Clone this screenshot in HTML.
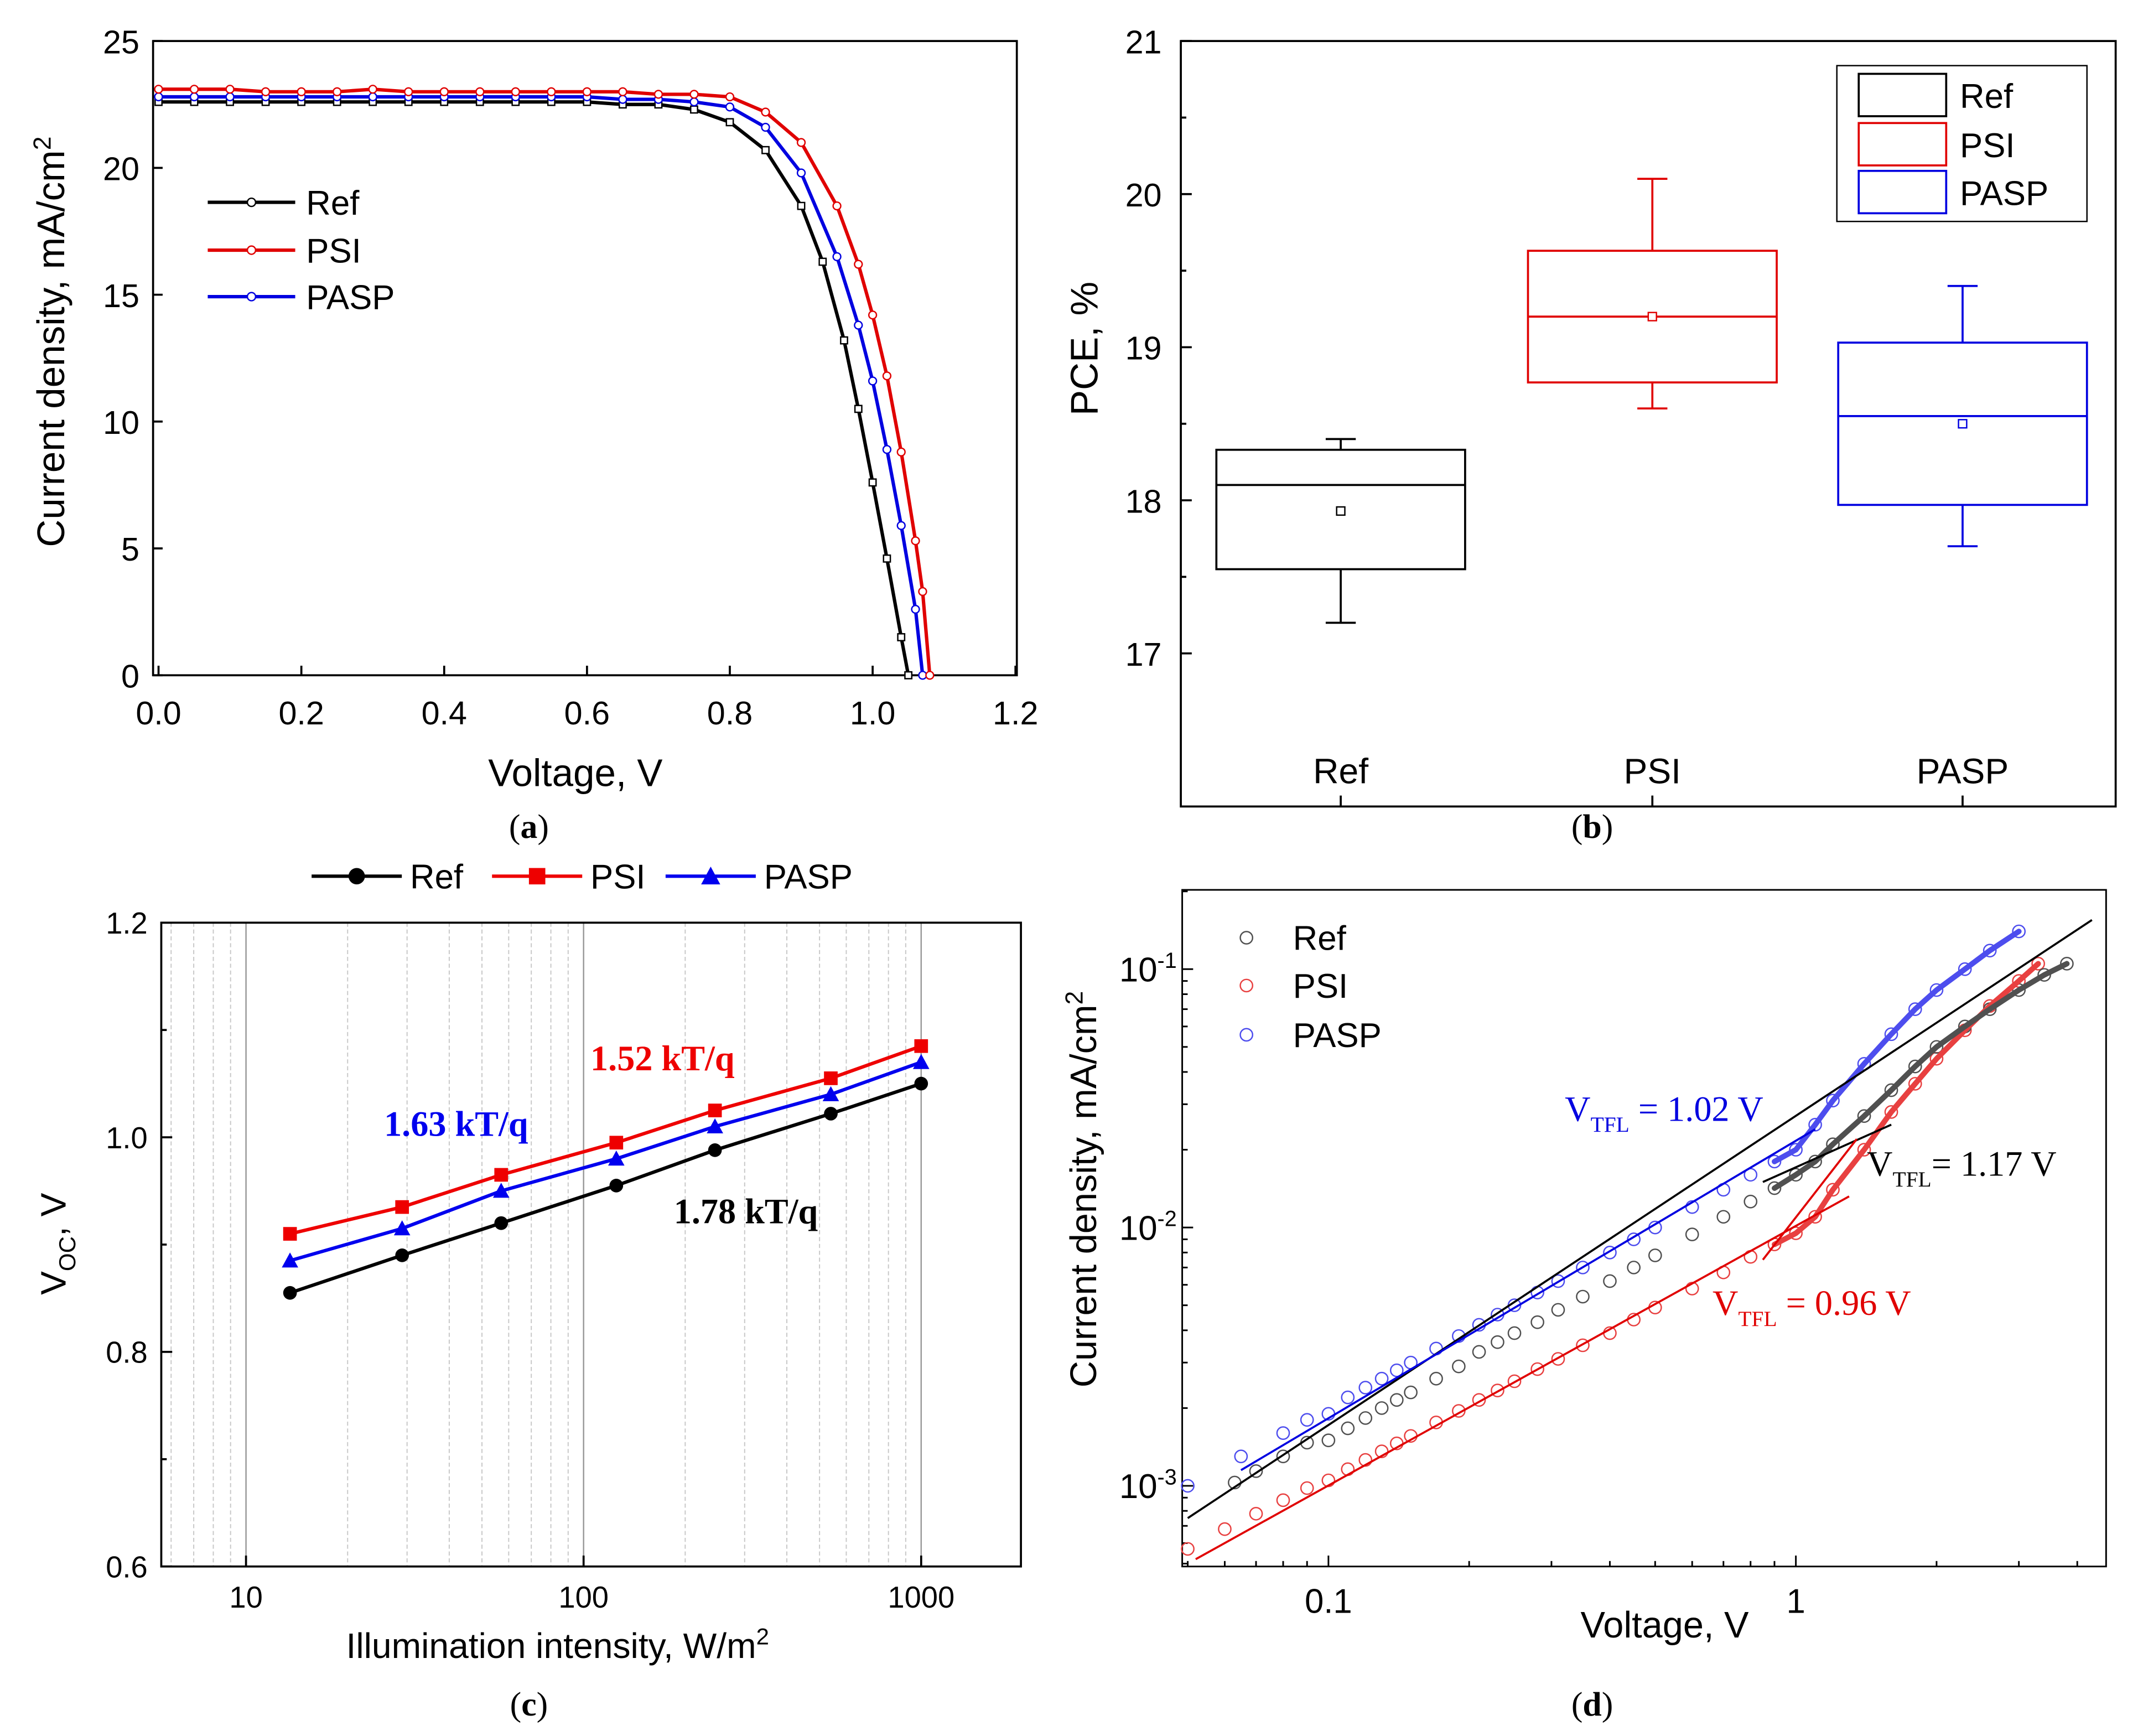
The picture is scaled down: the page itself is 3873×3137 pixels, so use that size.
<!DOCTYPE html>
<html><head><meta charset="utf-8"><style>
html,body{margin:0;padding:0;background:#fff}
svg{display:block}
text{font-family:"Liberation Sans",sans-serif}
.serif{font-family:"Liberation Serif",serif}
</style></head><body>
<svg id="fig" width="3873" height="3137" viewBox="0 0 1568 1270" xmlns="http://www.w3.org/2000/svg">
<g id="pa"></g>
<g id="pb"></g>
<g id="pc"></g>
<g id="pd"></g>
<text class="serif" x="387" y="613" font-size="25" text-anchor="middle">(<tspan font-weight="bold">a</tspan>)</text>
<text class="serif" x="1165" y="613" font-size="25" text-anchor="middle">(<tspan font-weight="bold">b</tspan>)</text>
<text class="serif" x="387" y="1255" font-size="25" text-anchor="middle">(<tspan font-weight="bold">c</tspan>)</text>
<text class="serif" x="1165" y="1255" font-size="25" text-anchor="middle">(<tspan font-weight="bold">d</tspan>)</text>
</svg>
<script>
// ---- Panel a data
const aV_ref=[0,0.05,0.1,0.15,0.2,0.25,0.3,0.35,0.4,0.45,0.5,0.55,0.6,0.65,0.7,0.75,0.8,0.85,0.9,0.93,0.96,0.98,1.0,1.02,1.04,1.05];
const aJ_ref=[22.6,22.6,22.6,22.6,22.6,22.6,22.6,22.6,22.6,22.6,22.6,22.6,22.6,22.5,22.5,22.3,21.8,20.7,18.5,16.3,13.2,10.5,7.6,4.6,1.5,0];
const aV_psi=[0,0.05,0.1,0.15,0.2,0.25,0.3,0.35,0.4,0.45,0.5,0.55,0.6,0.65,0.7,0.75,0.8,0.85,0.9,0.95,0.98,1.0,1.02,1.04,1.06,1.07,1.08];
const aJ_psi=[23.1,23.1,23.1,23.0,23.0,23.0,23.1,23.0,23.0,23.0,23.0,23.0,23.0,23.0,22.9,22.9,22.8,22.2,21.0,18.5,16.2,14.2,11.8,8.8,5.3,3.3,0];
const aV_pasp=[0,0.05,0.1,0.15,0.2,0.25,0.3,0.35,0.4,0.45,0.5,0.55,0.6,0.65,0.7,0.75,0.8,0.85,0.9,0.95,0.98,1.0,1.02,1.04,1.06,1.07];
const aJ_pasp=[22.8,22.8,22.8,22.8,22.8,22.8,22.8,22.8,22.8,22.8,22.8,22.8,22.8,22.7,22.7,22.6,22.4,21.6,19.8,16.5,13.8,11.6,8.9,5.9,2.6,0];
const aXTicks=[0,0.2,0.4,0.6,0.8,1.0,1.2];
const aYTicks=[0,5,10,15,20,25];
// ---- Panel b data
const bCats=["Ref","PSI","PASP"];
const bQ1=[17.55,18.77,17.97];
const bQ3=[18.33,19.63,19.03];
const bMed=[18.1,19.2,18.55];
const bMean=[17.93,19.2,18.5];
const bMin=[17.2,18.6,17.7];
const bMax=[18.4,20.1,19.4];
const bYTicks=[17,18,19,20,21];
// ---- Panel c data
const cI=[13.5,29,57,125,245,540,1000];
const cRef=[0.855,0.89,0.92,0.955,0.988,1.022,1.05];
const cPSI=[0.91,0.935,0.965,0.995,1.025,1.055,1.085];
const cPASP=[0.885,0.915,0.95,0.98,1.01,1.04,1.07];
const cYTicks=[0.6,0.8,1.0,1.2];
const cXTicks=[10,100,1000];
// ---- Panel d data
const dV_ref=[0.063,0.07,0.08,0.09,0.1,0.11,0.12,0.13,0.14,0.15,0.17,0.19,0.21,0.23,0.25,0.28,0.31,0.35,0.4,0.45,0.5,0.6,0.7,0.8,0.9,1.0,1.1,1.2,1.4,1.6,1.8,2.0,2.3,2.6,3.0,3.4,3.8];
const dJ_ref=[0.00103,0.00114,0.0013,0.00147,0.0015,0.00167,0.00183,0.002,0.00215,0.0023,0.0026,0.0029,0.0033,0.0036,0.0039,0.0043,0.0048,0.0054,0.0062,0.007,0.0078,0.0094,0.011,0.0126,0.0142,0.016,0.018,0.021,0.027,0.034,0.042,0.05,0.06,0.07,0.083,0.095,0.105];
const dV_psi=[0.05,0.06,0.07,0.08,0.09,0.1,0.11,0.12,0.13,0.14,0.15,0.17,0.19,0.21,0.23,0.25,0.28,0.31,0.35,0.4,0.45,0.5,0.6,0.7,0.8,0.9,1.0,1.1,1.2,1.4,1.6,1.8,2.0,2.3,2.6,3.0,3.3];
const dJ_psi=[0.00057,0.00068,0.00078,0.00088,0.00098,0.00105,0.00116,0.00126,0.00136,0.00146,0.00156,0.00176,0.00195,0.00215,0.00234,0.00254,0.00283,0.0031,0.0035,0.0039,0.0044,0.0049,0.0058,0.0067,0.0077,0.0086,0.0095,0.011,0.014,0.02,0.028,0.036,0.045,0.058,0.072,0.09,0.105];
const dV_pasp=[0.05,0.065,0.08,0.09,0.1,0.11,0.12,0.13,0.14,0.15,0.17,0.19,0.21,0.23,0.25,0.28,0.31,0.35,0.4,0.45,0.5,0.6,0.7,0.8,0.9,1.0,1.1,1.2,1.4,1.6,1.8,2.0,2.3,2.6,3.0];
const dJ_pasp=[0.001,0.0013,0.0016,0.0018,0.0019,0.0022,0.0024,0.0026,0.0028,0.003,0.0034,0.0038,0.0042,0.0046,0.005,0.0056,0.0062,0.007,0.008,0.009,0.01,0.012,0.014,0.016,0.018,0.02,0.025,0.031,0.043,0.056,0.07,0.083,0.1,0.118,0.14];
const dFitRef=[[0.05,0.00075],[4.3,0.155]];
const dFitPSI=[[0.052,0.00052],[1.3,0.0132]];
const dFitPASP=[[0.065,0.00115],[1.1,0.024]];
const dTanRef=[[0.85,0.015],[1.6,0.025]];
const dTanPSI=[[0.85,0.0075],[1.35,0.022]];

const NS="http://www.w3.org/2000/svg";
function el(p,tag,at){const e=document.createElementNS(NS,tag);for(const k in at)e.setAttribute(k,at[k]);p.appendChild(e);return e;}
function txt(p,x,y,s,size,anchor,extra){const t=el(p,'text',Object.assign({x:x,y:y,'font-size':size,'text-anchor':anchor||'middle'},extra||{}));t.textContent=s;return t;}

// ===== Panel a
(function(){
const g=document.getElementById('pa');
const X0=112,X1=744,Y0=30,Y1=494;
const sx=v=>116+v*(743-116)/1.2, sy=j=>494-j*(494-30)/25;
const box=el(g,'rect',{x:X0,y:Y0,width:X1-X0,height:Y1-Y0,fill:'none',stroke:'#000','stroke-width':1.5});

aXTicks.forEach(v=>{el(g,'line',{x1:sx(v),x2:sx(v),y1:Y1,y2:Y1-7,stroke:'#000','stroke-width':1.5});
 const t=txt(g,sx(v),Y1+36,v.toFixed(1),24);});
aYTicks.forEach(v=>{el(g,'line',{x1:X0,x2:X0+7,y1:sy(v),y2:sy(v),stroke:'#000','stroke-width':1.5});
 const t=txt(g,X0-10,sy(v)+9,String(v),24,'end');});
let t=txt(g,421,575,'Voltage, V',28);
t=txt(g,0,0,'',28);t.innerHTML='Current density, mA/cm<tspan font-size="18" dy="-10">2</tspan>';t.setAttribute('transform','translate(47,250) rotate(-90)');

const series=[[aV_ref,aJ_ref,'#000','rect','Ref'],[aV_pasp,aJ_pasp,'#0000e0','circle','PASP'],[aV_psi,aJ_psi,'#e00000','circle','PSI']];
series.forEach(s=>{
 const pl=el(g,'polyline',{points:s[0].map((v,i)=>sx(v)+','+sy(s[1][i])).join(' '),fill:'none',stroke:s[2],'stroke-width':2.5});
 
 s[0].forEach((v,i)=>{let m;
  if(s[3]==='rect')m=el(g,'rect',{x:sx(v)-2.5,y:sy(s[1][i])-2.5,width:5,height:5,fill:'#fff',stroke:s[2],'stroke-width':1});
  else m=el(g,'circle',{cx:sx(v),cy:sy(s[1][i]),r:2.8,fill:'#fff',stroke:s[2],'stroke-width':1});
  });
});
[['Ref','#000',148],['PSI','#e00000',183],['PASP','#0000e0',217]].forEach(l=>{
 const lg=el(g,'g',{});
 el(lg,'line',{x1:152,x2:216,y1:l[2],y2:l[2],stroke:l[1],'stroke-width':2.5});
 el(lg,'circle',{cx:184,cy:l[2],r:3,fill:'#fff',stroke:l[1]});
 txt(lg,224,l[2]+9,l[0],25,'start');});
})();

// ===== Panel b
(function(){
const g=document.getElementById('pb');
const X0=864,X1=1548,Y0=30,Y1=590;
const sy=v=>478-(v-17)*112; const cx=[981,1209,1436]; const hw=91;
const colors=['#000','#e00000','#0000e0'];
const box=el(g,'rect',{x:X0,y:Y0,width:X1-X0,height:Y1-Y0,fill:'none',stroke:'#000','stroke-width':1.5});

bYTicks.forEach(v=>{el(g,'line',{x1:X0,x2:X0+8,y1:sy(v),y2:sy(v),stroke:'#000','stroke-width':1.5});
 const t=txt(g,X0-14,sy(v)+9,String(v),24,'end');});
[17.5,18.5,19.5,20.5].forEach(v=>el(g,'line',{x1:X0,x2:X0+4,y1:sy(v),y2:sy(v),stroke:'#000','stroke-width':1.5}));
let t=txt(g,0,0,'PCE, %',28);t.setAttribute('transform','translate(803,255) rotate(-90)');
bCats.forEach((c,i)=>{
 const x=cx[i],col=colors[i];
 el(g,'line',{x1:x,x2:x,y1:Y1,y2:Y1-8,stroke:'#000','stroke-width':1.5});
 const tl=txt(g,x,573,c,26);
 const bg=el(g,'g',{});
 el(bg,'line',{x1:x,x2:x,y1:sy(bMax[i]),y2:sy(bQ3[i]),stroke:col,'stroke-width':1.5});
 el(bg,'line',{x1:x,x2:x,y1:sy(bQ1[i]),y2:sy(bMin[i]),stroke:col,'stroke-width':1.5});
 el(bg,'line',{x1:x-11,x2:x+11,y1:sy(bMax[i]),y2:sy(bMax[i]),stroke:col,'stroke-width':1.5});
 el(bg,'line',{x1:x-11,x2:x+11,y1:sy(bMin[i]),y2:sy(bMin[i]),stroke:col,'stroke-width':1.5});
 el(bg,'rect',{x:x-hw,y:sy(bQ3[i]),width:2*hw,height:sy(bQ1[i])-sy(bQ3[i]),fill:'none',stroke:col,'stroke-width':1.5});
 el(bg,'line',{x1:x-hw,x2:x+hw,y1:sy(bMed[i]),y2:sy(bMed[i]),stroke:col,'stroke-width':1.5});
 el(bg,'rect',{x:x-3,y:sy(bMean[i])-3,width:6,height:6,fill:'#fff',stroke:col,'stroke-width':1});
});
const lg=el(g,'g',{});
el(lg,'rect',{x:1344,y:48,width:183,height:114,fill:'#fff',stroke:'#000','stroke-width':1});
[['Ref','#000',54],['PSI','#e00000',90],['PASP','#0000e0',125]].forEach(l=>{
 const e=el(lg,'g',{});
 el(e,'rect',{x:1360,y:l[2],width:64,height:31,fill:'none',stroke:l[1],'stroke-width':1.5});
 txt(e,1434,l[2]+25,l[0],25,'start');});
})();

// ===== Panel c
(function(){
const g=document.getElementById('pc');
const X0=118,X1=747,Y0=675,Y1=1146;
const sx=v=>180+(Math.log10(v)-1)*247, sy=v=>1146-(v-0.6)*785;
for(let d=0;d<4;d++)for(let m=1;m<10;m++){const v=m*Math.pow(10,d);const x=sx(v);if(x<=X0||x>=X1)continue;
 el(g,'line',{x1:x,x2:x,y1:Y0,y2:Y1,stroke:m===1?'#999':'#c8c8c8','stroke-width':m===1?1:0.8,'stroke-dasharray':m===1?'':'3,2'});}
const box=el(g,'rect',{x:X0,y:Y0,width:X1-X0,height:Y1-Y0,fill:'none',stroke:'#000','stroke-width':1.5});

cYTicks.forEach(v=>{el(g,'line',{x1:X0,x2:X0+8,y1:sy(v),y2:sy(v),stroke:'#000','stroke-width':1.5});
 const t=txt(g,X0-10,sy(v)+8,v.toFixed(1),22,'end');});
[0.7,0.9,1.1].forEach(v=>el(g,'line',{x1:X0,x2:X0+4,y1:sy(v),y2:sy(v),stroke:'#000','stroke-width':1.5}));
cXTicks.forEach(v=>{el(g,'line',{x1:sx(v),x2:sx(v),y1:Y1,y2:Y1-8,stroke:'#000','stroke-width':1.5});
 const t=txt(g,sx(v),Y1+30,String(v),22);});
let t=txt(g,0,0,'',26);t.innerHTML='Illumination intensity, W/m<tspan font-size="17" dy="-10">2</tspan>';t.setAttribute('x',408);t.setAttribute('y',1213);

t=txt(g,0,0,'',26);t.innerHTML='V<tspan font-size="17" dy="7">OC</tspan><tspan dy="-7">, V</tspan>';t.setAttribute('transform','translate(48,910) rotate(-90)');

const S=[[cRef,'#000','circle','Ref'],[cPSI,'#ee0000','square','PSI'],[cPASP,'#0000ee','triangle','PASP']];
function mark(p,type,x,y,col,r){if(type==='circle')return el(p,'circle',{cx:x,cy:y,r:r,fill:col});
 if(type==='square')return el(p,'rect',{x:x-r,y:y-r,width:2*r,height:2*r,fill:col});
 return el(p,'polygon',{points:`${x},${y-r-1} ${x-r-1},${y+r} ${x+r+1},${y+r}`,fill:col});}
S.forEach(s=>{const pl=el(g,'polyline',{points:cI.map((v,i)=>sx(v)+','+sy(s[0][i])).join(' '),fill:'none',stroke:s[1],'stroke-width':2.5});
 
 cI.forEach((v,i)=>{const m=mark(g,s[2],sx(v),sy(s[0][i]),s[1],5);});});
[['Ref','#000','circle',228],['PSI','#ee0000','square',360],['PASP','#0000ee','triangle',487]].forEach(l=>{
 const e=el(g,'g',{});
 el(e,'line',{x1:l[3],x2:l[3]+66,y1:641,y2:641,stroke:l[1],'stroke-width':2.5});mark(e,l[2],l[3]+33,641,l[1],6);
 txt(e,l[3]+72,650,l[0],25,'start');});
[['1.52 kT/q','#ee0000',432,783],['1.63 kT/q','#0000ee',281,831],['1.78 kT/q','#000',493,895]].forEach(a=>{
 const tt=txt(g,a[2],a[3],a[0],26,'start',{fill:a[1],'font-weight':'bold',class:'serif'});});
})();

// ===== Panel d
(function(){
const g=document.getElementById('pd');
const X0=865,X1=1541,Y0=651,Y1=1146;
const sx=v=>972+(Math.log10(v)+1)*342, sy=v=>709-(Math.log10(v)+1)*189;
const box=el(g,'rect',{x:X0,y:Y0,width:X1-X0,height:Y1-Y0,fill:'none',stroke:'#000','stroke-width':1.2});

for(const v of [0.05,0.06,0.07,0.08,0.09,0.1,0.2,0.3,0.4,0.5,0.6,0.7,0.8,0.9,1,2,3,4]){const x=sx(v);if(x<X0)continue;const L=(v===0.1||v===1)?8:4;
 el(g,'line',{x1:x,x2:x,y1:Y1,y2:Y1-L,stroke:'#000','stroke-width':1.2});}
for(let e=-4;e<0;e++)for(let m=1;m<10;m++){const y=sy(m*Math.pow(10,e));if(y<Y0||y>Y1)continue;
 el(g,'line',{x1:X0,x2:X0+(m===1?8:4),y1:y,y2:y,stroke:'#000','stroke-width':1.2});}
[[0.1,'0.1'],[1,'1']].forEach(a=>{const t=txt(g,sx(a[0]),1180,a[1],25);});
[[0.1,'-1'],[0.01,'-2'],[0.001,'-3']].forEach(a=>{const t=txt(g,0,0,'',25,'end');t.innerHTML='10<tspan font-size="16" dy="-10">'+a[1]+'</tspan>';
 t.setAttribute('x',X0-4);t.setAttribute('y',sy(a[0])+9);});
let t=txt(g,1218,1198,'Voltage, V',27);
t=txt(g,0,0,'',27);t.innerHTML='Current density, mA/cm<tspan font-size="18" dy="-10">2</tspan>';t.setAttribute('transform','translate(802,870) rotate(-90)');

const S=[[dV_psi,dJ_psi,'#e84040','psi'],[dV_ref,dJ_ref,'#505050','ref'],[dV_pasp,dJ_pasp,'#4d4dee','pasp']];
S.forEach(s=>s[0].forEach((v,i)=>{const c=el(g,'circle',{cx:sx(v),cy:sy(s[1][i]),r:4.5,fill:'none',stroke:s[2],'stroke-width':1});
 }));
S.forEach(s=>{const pts=s[0].map((v,i)=>[v,s[1][i]]).filter(p=>p[0]>=0.9);
 const pl=el(g,'polyline',{points:pts.map(p=>sx(p[0])+','+sy(p[1])).join(' '),fill:'none',stroke:s[2],'stroke-width':4,'stroke-linecap':'round'});
 });
[[dFitRef,'#000','fit-ref'],[dFitPSI,'#e00000','fit-psi'],[dFitPASP,'#0000e0','fit-pasp'],[dTanRef,'#000','tangent-ref'],[dTanPSI,'#e00000','tangent-psi']].forEach(f=>{
 const l=el(g,'line',{x1:sx(f[0][0][0]),y1:sy(f[0][0][1]),x2:sx(f[0][1][0]),y2:sy(f[0][1][1]),stroke:f[1],'stroke-width':1.5});
 });
[['Ref','#505050',686],['PSI','#e84040',721],['PASP','#4d4dee',757]].forEach(l=>{
 const e=el(g,'g',{});
 el(e,'circle',{cx:912,cy:l[2],r:4.5,fill:'none',stroke:l[1]});txt(e,946,l[2]+9,l[0],25,'start');});
[['1.02 V','#0000e0',1145,820,' = '],['1.17 V','#000',1366,860,'= '],['0.96 V','#e00000',1253,962,' = ']].forEach(a=>{
 const tt=txt(g,a[2],a[3],'',26,'start',{fill:a[1],class:'serif'});
 tt.innerHTML='V<tspan font-size="16" dy="8">TFL</tspan><tspan dy="-8">'+a[4]+a[0]+'</tspan>';
 });
})();
</script>
</body></html>
